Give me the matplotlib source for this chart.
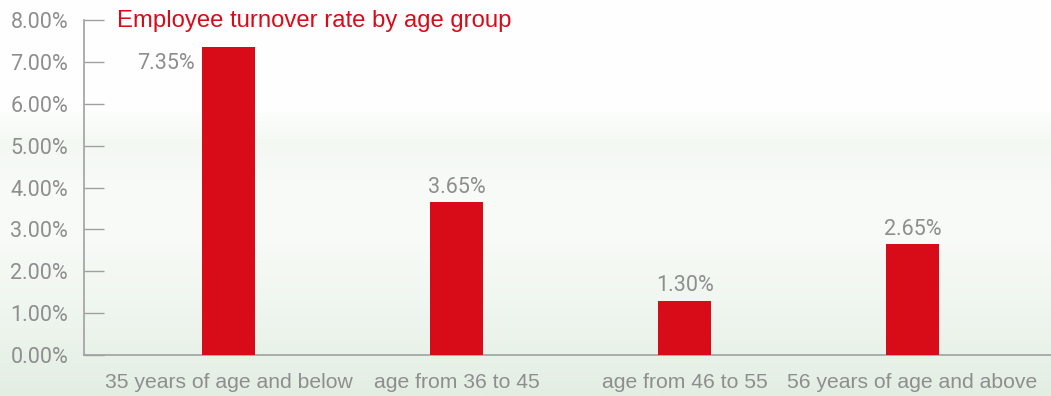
import matplotlib.pyplot as plt
import numpy as np
from matplotlib.colors import LinearSegmentedColormap

# data
categories = [
    "35 years of age and below",
    "age from 36 to 45",
    "age from 46 to 55",
    "56 years of age and above",
]
rates = [7.35, 3.65, 1.30, 2.65]
title = "Employee turnover rate by age group"

red = "#D80B18"
grey = "#8E8E8E"

fig = plt.figure(figsize=(10.51, 3.96), dpi=100)

# soft white-to-green background
bg = fig.add_axes([0, 0, 1, 1], zorder=-1)
bg.axis("off")
cmap = LinearSegmentedColormap.from_list(
    "bg",
    [(0.0, "#ffffff"), (0.28, "#fdfefd"), (0.36, "#f4f8f3"), (0.48, "#f8fbf8"),
     (0.62, "#f7faf6"), (0.80, "#eef5ee"), (1.0, "#e3eee3")],
)
grad = np.linspace(0, 1, 256).reshape(-1, 1)
bg.imshow(grad, aspect="auto", cmap=cmap, extent=[0, 1, 0, 1], origin="upper")
bg.set_xlim(0, 1)
bg.set_ylim(0, 1)

ax = fig.add_axes([84 / 1051, 41 / 396, 1 - 84 / 1051, 335 / 396])
ax.patch.set_alpha(0)

x = np.arange(len(categories))
ax.bar(x, rates, width=0.232, color=red, zorder=3)

num_font = dict(family="Roboto", fontsize=15.5, color=grey)

ax.set_xlim(-0.634, 3.607)
ax.set_ylim(0, 8)
ax.set_yticks(np.arange(0, 9, 1))
ax.set_yticklabels([f"{v:.2f}%" for v in range(9)], **num_font)
ax.tick_params(axis="y", direction="in", length=14.5, width=1, color="#a0a0a0", pad=11.5)

ax.set_xticks(x)
ax.set_xticklabels(categories, family="Liberation Sans", fontsize=15.2, color=grey)
ax.tick_params(axis="x", length=0, pad=13)

for side in ["top", "right"]:
    ax.spines[side].set_visible(False)
for side in ["left", "bottom"]:
    ax.spines[side].set_color("#a0a0a0")
    ax.spines[side].set_linewidth(1.2)

# value labels
for i, v in enumerate(rates):
    if i == 0:
        ax.annotate(f"{v:.2f}%", (i - 0.116, v), xytext=(-5, -4), textcoords="offset points",
                    ha="right", va="top", **num_font)
    else:
        ax.annotate(f"{v:.2f}%", (i, v), xytext=(0, 3), textcoords="offset points",
                    ha="center", va="bottom", **num_font)

fig.text(117 / 1051, (396 - 27) / 396, title, family="Liberation Sans", fontsize=17.2,
         color=red, ha="left", va="baseline")

fig.savefig("out.png", dpi=100)
